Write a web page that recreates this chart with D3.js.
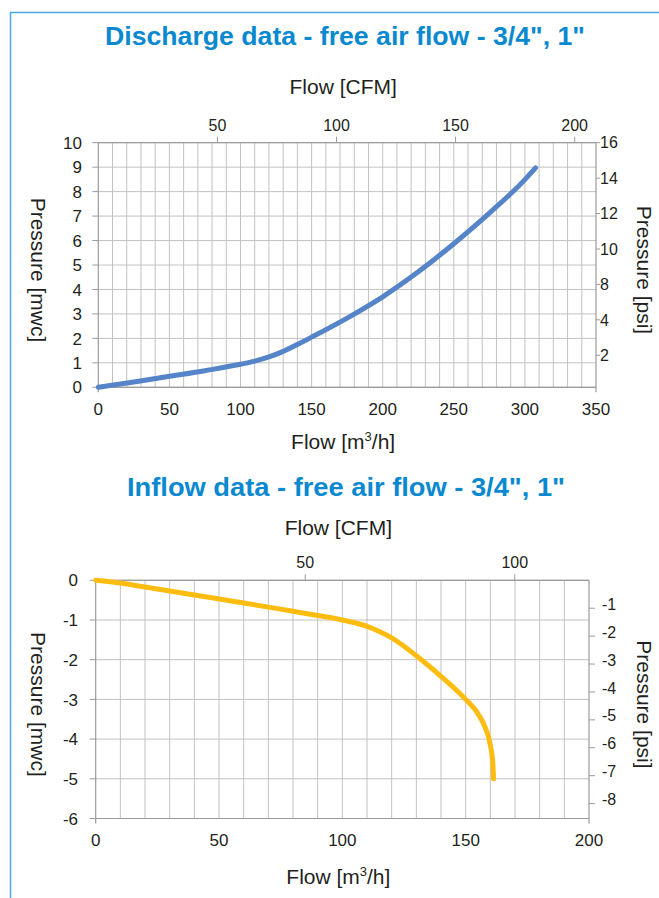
<!DOCTYPE html>
<html><head><meta charset="utf-8">
<script src="https://cdn.jsdelivr.net/npm/d3@7/dist/d3.min.js"></script>
<style>
body{margin:0;background:#fff}
svg{display:block}
text{font-family:"Liberation Sans",Arial,sans-serif;fill:#231f20}
</style>
</head><body>
<svg id="c" width="659" height="898"></svg>
<script>
// ---------- DATA ----------
const titles = ['Discharge data - free air flow - 3/4", 1"', 'Inflow data - free air flow - 3/4", 1"'];
const dischargeFlow     = [0, 25, 50, 75, 100, 110, 120, 130, 140, 150, 175, 200, 225, 250, 275, 300, 307.5];
const dischargePressure = [0, 0.22, 0.45, 0.68, 0.94, 1.07, 1.24, 1.47, 1.75, 2.05, 2.83, 3.70, 4.72, 5.87, 7.12, 8.49, 8.97];
const inflowFlow        = [0, 10, 20, 40, 60, 80, 90, 100, 105, 110, 115, 120, 130, 140, 150, 155, 158, 160, 161, 161.3];
const inflowPressure    = [0, -0.07, -0.17, -0.37, -0.57, -0.78, -0.885, -1.0, -1.07, -1.16, -1.29, -1.45, -1.9, -2.42, -3.0, -3.36, -3.72, -4.15, -4.6, -5.0];

const dischargeFlowTicks = [0, 50, 100, 150, 200, 250, 300, 350];
const dischargeMwcTicks  = [0, 1, 2, 3, 4, 5, 6, 7, 8, 9, 10];
const dischargeCfmTicks  = [50, 100, 150, 200];
const dischargePsiLabels = ["16", "14", "12", "10", "8", "4", "2"];

const inflowFlowTicks = [0, 50, 100, 150, 200];
const inflowMwcTicks  = [0, -1, -2, -3, -4, -5, -6];
const inflowCfmTicks  = [50, 100];
const inflowPsiTicks  = [-1, -2, -3, -4, -5, -6, -7, -8];

// ---------- DRAW ----------
const svg = d3.select("#c");
const BLUE_TITLE = "#0a89d0";
const GRID = "#c2c2c2", AXIS = "#9b9b9b";

// frame
svg.append("path").attr("d", "M10.5,898 L10.5,12.5 L659,12.5")
  .attr("fill", "none").attr("stroke", "#4aa9e4").attr("stroke-width", 1.5);

function title(txt, cx, base, len) {
  svg.append("text").attr("x", cx).attr("y", base).attr("text-anchor", "middle")
    .attr("textLength", len).attr("lengthAdjust", "spacingAndGlyphs")
    .style("font-family", '"Liberation Sans Narrow","Liberation Sans",Arial,sans-serif')
    .style("font-weight", "bold").style("font-size", "25px").style("fill", BLUE_TITLE)
    .text(txt);
}

function axisTitle(g, txt, x, y, rot) {
  const t = g.append("text").attr("text-anchor", "middle").style("font-size", "21px")
    .attr("transform", `translate(${x},${y}) rotate(${rot})`);
  if (txt === "m3h") {
    t.append("tspan").text("Flow [m");
    t.append("tspan").text("3").style("font-size", "13px").attr("dy", -8);
    t.append("tspan").text("/h]").attr("dy", 8);
  } else t.text(txt);
}

function chart(o) {
  const g = svg.append("g");
  const x = d3.scaleLinear().domain(o.xDom).range([o.left, o.right]);
  const y = d3.scaleLinear().domain(o.yDom).range([o.bottom, o.top]);
  const xc = d3.scaleLinear().domain([0, o.xDom[1] / o.cfmFactor]).range([o.left, o.right]);

  // grid
  g.selectAll(".vg").data(d3.range(o.xDom[0] + 10, o.xDom[1], 10)).join("line")
    .attr("x1", d => x(d)).attr("x2", d => x(d)).attr("y1", o.top).attr("y2", o.bottom)
    .attr("stroke", GRID).attr("stroke-width", 1);
  g.selectAll(".hg").data(o.yTicks).join("line")
    .attr("x1", o.left).attr("x2", o.right).attr("y1", d => y(d)).attr("y2", d => y(d))
    .attr("stroke", d => (d === o.xAxisAt ? AXIS : GRID)).attr("stroke-width", 1);

  // axes lines
  g.append("line").attr("x1", o.left).attr("x2", o.left).attr("y1", o.top).attr("y2", o.bottom + 5)
    .attr("stroke", AXIS).attr("stroke-width", 1.2);
  g.append("line").attr("x1", o.right).attr("x2", o.right).attr("y1", o.top).attr("y2", o.bottom + 5)
    .attr("stroke", AXIS).attr("stroke-width", 1.2);
  g.append("line").attr("x1", o.left).attr("x2", o.right).attr("y1", o.top).attr("y2", o.top)
    .attr("stroke", AXIS).attr("stroke-width", 1.2);
  g.append("line").attr("x1", o.left).attr("x2", o.right).attr("y1", o.bottom).attr("y2", o.bottom)
    .attr("stroke", AXIS).attr("stroke-width", 1.2);

  // left ticks + labels
  g.selectAll(".lt").data(o.yTicks).join("line")
    .attr("x1", o.left - 6).attr("x2", o.left).attr("y1", d => y(d)).attr("y2", d => y(d))
    .attr("stroke", AXIS);
  g.selectAll(".ll").data(o.yTicks).join("text")
    .attr("x", o.leftLabelX).attr("y", d => y(d)).attr("dy", "0.36em")
    .attr("text-anchor", "end").style("font-size", o.tickFs + "px").text(d => d);

  // bottom labels
  g.selectAll(".bl").data(o.xTicks).join("text")
    .attr("x", d => x(d)).attr("y", o.bottomLabelY).attr("text-anchor", "middle")
    .style("font-size", o.tickFs + "px").text(d => d);

  // top CFM ticks
  g.selectAll(".tt").data(o.cfmTicks).join("line")
    .attr("x1", d => xc(d)).attr("x2", d => xc(d)).attr("y1", o.top - 6).attr("y2", o.top)
    .attr("stroke", AXIS);
  g.selectAll(".tl").data(o.cfmTicks).join("text")
    .attr("x", d => xc(d)).attr("y", o.cfmLabelY).attr("text-anchor", "middle")
    .style("font-size", "16px").text(d => d);

  // right psi axis
  const ps = o.psiScale(y);
  g.selectAll(".rt").data(o.psiTicks).join("line")
    .attr("x1", o.right).attr("x2", o.right + o.psiTickLen).attr("y1", d => ps(d)).attr("y2", d => ps(d))
    .attr("stroke", AXIS);
  g.selectAll(".rl").data(o.psiTicks).join("text")
    .attr("x", o.right + o.psiLabelDx).attr("y", d => ps(d)).attr("dy", o.psiDy)
    .style("font-size", "16px").text(o.psiFmt);

  // axis titles
  axisTitle(g, "Flow [CFM]", (o.left + o.right) / 2 - 4, o.cfmTitleY, 0);
  axisTitle(g, "m3h", (o.left + o.right) / 2 - 4, o.flowTitleY, 0);
  axisTitle(g, "Pressure [mwc]", 31, (o.top + o.bottom) / 2 + 5, 90);
  axisTitle(g, "Pressure [psi]", 637, (o.top + o.bottom) / 2 + 5, 90);

  // curve
  const pts = o.flows.map((f, i) => [f, o.pres[i]]);
  g.append("path").datum(pts)
    .attr("d", d3.line().x(d => x(d[0])).y(d => y(d[1])).curve(d3.curveMonotoneX))
    .attr("fill", "none").attr("stroke", o.color).attr("stroke-width", 5)
    .attr("stroke-linecap", "round").attr("stroke-linejoin", "round");
}

title(titles[0], 345, 45, 480);
chart({
  left: 98.3, right: 596, top: 142.7, bottom: 387.3,
  xDom: [0, 350], yDom: [0, 10], cfmFactor: 1.675,
  xTicks: dischargeFlowTicks, yTicks: dischargeMwcTicks, cfmTicks: dischargeCfmTicks,
  xAxisAt: 0, tickFs: 17, leftLabelX: 82, bottomLabelY: 415, cfmLabelY: 131,
  cfmTitleY: 94, flowTitleY: 449,
  psiTicks: dischargePsiLabels,
  psiScale: y => d3.scalePoint().domain(dischargePsiLabels).range([y(10), y(1.31)]),
  psiFmt: d => d, psiTickLen: 4, psiLabelDx: 4, psiDy: "0.36em",
  flows: dischargeFlow, pres: dischargePressure, color: "#5585c8"
});

title(titles[1], 346, 496, 438);
chart({
  left: 95.7, right: 589, top: 580.3, bottom: 818.5,
  xDom: [0, 200], yDom: [-6, 0], cfmFactor: 1.699,
  xTicks: inflowFlowTicks, yTicks: inflowMwcTicks, cfmTicks: inflowCfmTicks,
  xAxisAt: 0, tickFs: 17, leftLabelX: 78, bottomLabelY: 846, cfmLabelY: 568,
  cfmTitleY: 535, flowTitleY: 884,
  psiTicks: inflowPsiTicks,
  psiScale: y => d3.scaleLinear().domain([0, -6 * 1.4223]).range([y(0), y(-6)]),
  psiFmt: d => d, psiTickLen: 6, psiLabelDx: 13, psiDy: "0.1em",
  flows: inflowFlow, pres: inflowPressure, color: "#fdbd10"
});
</script>
</body></html>
